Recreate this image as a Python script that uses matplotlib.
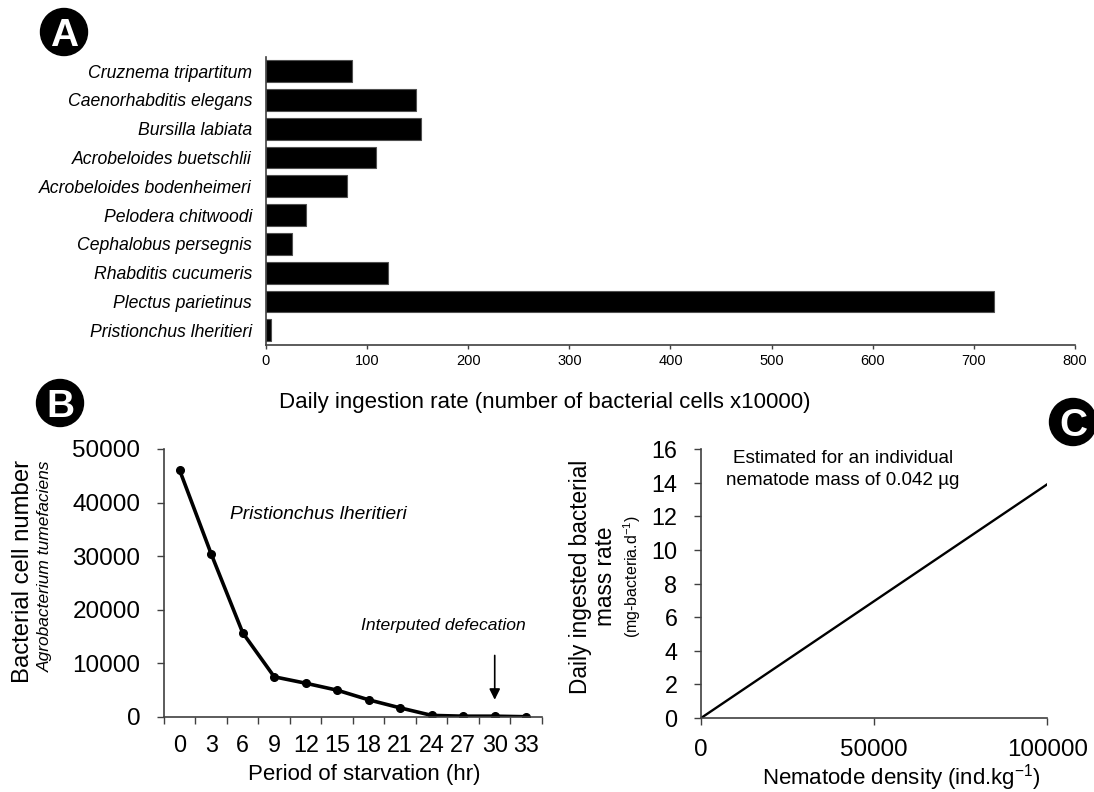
import numpy as np
import matplotlib
matplotlib.use("Agg")
from matplotlib import pyplot as plt
from matplotlib import patches

plt.rcParams['font.family'] = 'Liberation Sans'
plt.rcParams['mathtext.fontset'] = 'custom'
plt.rcParams['mathtext.rm'] = 'Liberation Sans'
plt.rcParams['mathtext.it'] = 'Liberation Sans:italic'

# panel A - daily ingestion rate per species (x10000 cells)
species = ['Cruznema tripartitum', 'Caenorhabditis elegans', 'Bursilla labiata',
           'Acrobeloides buetschlii', 'Acrobeloides bodenheimeri', 'Pelodera chitwoodi',
           'Cephalobus persegnis', 'Rhabditis cucumeris', 'Plectus parietinus',
           'Pristionchus lheritieri']
ingestion = [85, 148, 153, 109, 80, 40, 26, 121, 720, 5]

# panel B - bacterial cells vs starvation time
starv_hr = ['0', '3', '6', '9', '12', '15', '18', '21', '24', '27', '30', '33']
cells = [46000, 30400, 15700, 7500, 6300, 5000, 3200, 1700, 300, 150, 150, 50]
arrow_hr = 10          # category index of "30"
arrow_from, arrow_to = 12000, 2700

# panel C - ingested mass vs nematode density
density = [0, 100000]
mass_rate = [0, 13.9]

AX_COL = '#404040'

fig = plt.figure(figsize=(10.94, 7.92), dpi=100)

# ---------------- A ----------------
axA = fig.add_axes([0.2431, 0.5648, 0.7395, 0.3636])
ypos = np.arange(len(species))
axA.barh(ypos, ingestion, height=0.76, color='black', edgecolor='#505050', linewidth=0.8)
axA.set_ylim(len(species) - 0.5, -0.5)
axA.set_xlim(0, 800)
axA.set_xticks(np.arange(0, 801, 100))
axA.set_yticks(ypos)
axA.set_yticklabels(species, fontstyle='italic', fontsize=12.7)
axA.tick_params(axis='y', length=0, pad=10)
axA.tick_params(axis='x', length=3, width=1, color=AX_COL, labelsize=10.5, pad=4)
axA.set_xlabel('Daily ingestion rate (number of bacterial cells x10000)', fontsize=16)
axA.xaxis.set_label_coords(0.344, -0.165)
for s in ['top', 'right']:
    axA.spines[s].set_visible(False)
for s in ['left', 'bottom']:
    axA.spines[s].set_color(AX_COL)
    axA.spines[s].set_linewidth(1.2)

# ---------------- B ----------------
axB = fig.add_axes([0.1499, 0.0947, 0.3455, 0.3384])
xB = np.arange(len(starv_hr))
axB.plot(xB, cells, color='black', lw=2.6, marker='o', markersize=5.5)
axB.set_xlim(-0.5, len(starv_hr) - 0.5)
axB.set_ylim(0, 50000)
axB.set_yticks(np.arange(0, 50001, 10000))
axB.set_xticks(xB)
axB.set_xticklabels(starv_hr)
axB.set_xticks(np.arange(-0.5, len(starv_hr)), minor=True)
axB.tick_params(axis='x', which='major', length=0, labelsize=16.8, pad=12)
axB.tick_params(axis='x', which='minor', length=5, width=1, color=AX_COL)
axB.tick_params(axis='y', length=5, width=1, color=AX_COL, labelsize=17.5, pad=12)
axB.set_xlabel('Period of starvation (hr)', fontsize=16)
axB.xaxis.set_label_coords(0.53, -0.175)
for s in ['top', 'right']:
    axB.spines[s].set_visible(False)
for s in ['left', 'bottom']:
    axB.spines[s].set_color(AX_COL)
    axB.spines[s].set_linewidth(1.2)
axB.text(4.39, 37700, 'Pristionchus lheritieri', fontstyle='italic', fontsize=13.8,
         ha='center', va='center')
axB.text(8.38, 17000, 'Interputed defecation', fontstyle='italic', fontsize=12.6,
         ha='center', va='center')
axB.annotate('', xy=(arrow_hr, arrow_to), xytext=(arrow_hr, arrow_from),
             arrowprops=dict(arrowstyle='-|>', color='black', lw=1.2, mutation_scale=16))
fig.text(22.8 / 1094, 1 - 571.7 / 792, 'Bacterial cell number', rotation=90,
         fontsize=17.2, ha='center', va='center')
fig.text(45.6 / 1094, 1 - 566 / 792, 'Agrobacterium tumefaciens', rotation=90,
         fontsize=12.5, fontstyle='italic', ha='center', va='center')

# ---------------- C ----------------
axC = fig.add_axes([0.6408, 0.0934, 0.3163, 0.3396])
axC.plot(density, mass_rate, color='black', lw=1.7)
axC.set_xlim(0, 100000)
axC.set_ylim(0, 16)
axC.set_xticks([0, 50000, 100000])
axC.set_yticks(np.arange(0, 17, 2))
axC.tick_params(axis='x', length=5, width=1, color=AX_COL, labelsize=17.4, pad=10)
axC.tick_params(axis='y', length=5, width=1, color=AX_COL, labelsize=16.8, pad=12)
axC.set_xlabel('Nematode density (ind.kg$^{-1}$)', fontsize=16)
axC.xaxis.set_label_coords(0.58, -0.165)
for s in ['top', 'right']:
    axC.spines[s].set_visible(False)
for s in ['left', 'bottom']:
    axC.spines[s].set_color(AX_COL)
    axC.spines[s].set_linewidth(1.2)
axC.text(0.41, 0.925, 'Estimated for an individual\nnematode mass of 0.042 \u00b5g',
         transform=axC.transAxes, fontsize=13.6, ha='center', va='center',
         multialignment='center', linespacing=1.35)
fig.text(580.6 / 1094, 1 - 576.7 / 792, 'Daily ingested bacterial', rotation=90,
         fontsize=16.3, ha='center', va='center')
fig.text(605.6 / 1094, 1 - 576.7 / 792, 'mass rate', rotation=90,
         fontsize=16.3, ha='center', va='center')
fig.text(632.6 / 1094, 1 - 576.7 / 792, '(mg-bacteria.d$^{-1}$)', rotation=90,
         fontsize=11.5, ha='center', va='center')

# panel badges
for letter, cx, cy in [('A', 0.64, 7.60), ('B', 0.60, 3.89), ('C', 10.73, 3.70)]:
    fig.add_artist(patches.Circle((cx, cy), 0.235, transform=fig.dpi_scale_trans,
                                  color='black'))
    fig.text(cx, cy - 0.14, letter, transform=fig.dpi_scale_trans, color='white',
             fontsize=28, fontweight='bold', ha='center', va='baseline')

fig.savefig('out.png', dpi=100)
